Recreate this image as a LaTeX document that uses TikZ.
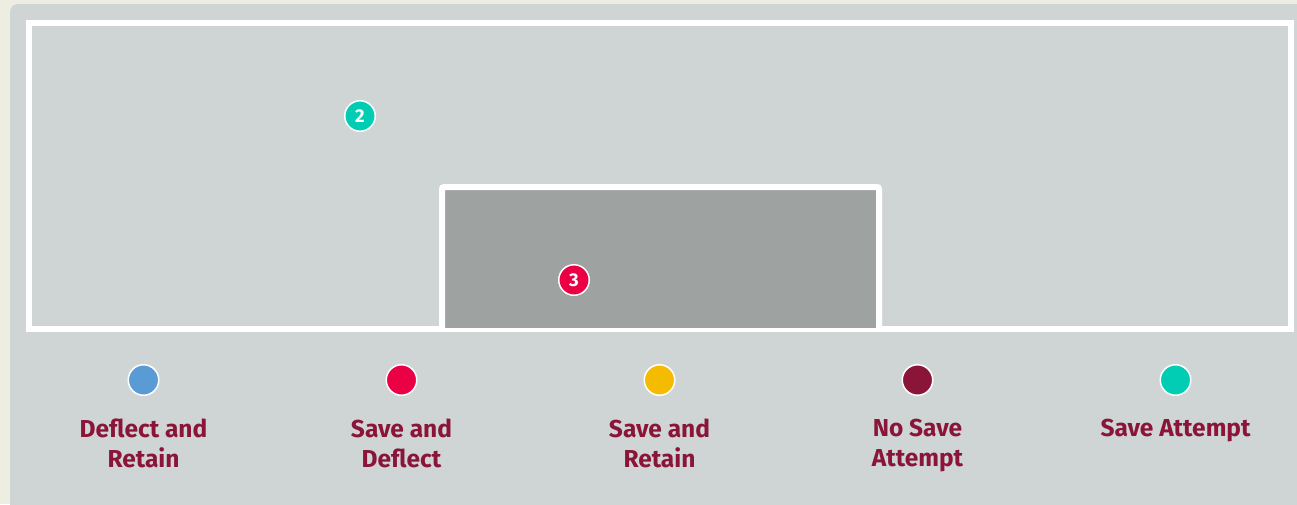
\documentclass[tikz,border=0pt]{standalone}
\usepackage{fontspec}
\setmainfont{Fira Sans}
\usetikzlibrary{positioning}
\definecolor{cream}{HTML}{EEEDE1}
\definecolor{panel}{HTML}{CFD5D5}
\definecolor{goalgrey}{HTML}{9EA2A0}
\definecolor{maroon}{HTML}{8A1538}
\definecolor{deflblue}{HTML}{5B9BD5}
\definecolor{savered}{HTML}{EB0046}
\definecolor{saveyellow}{HTML}{F5BB00}
\definecolor{attteal}{HTML}{00CDB4}
\tikzset{
  shotdot/.style={circle, draw=white, line width=1.5pt, inner sep=0pt,
                  minimum size=30.5pt, text=white,
                  font=\fontsize{18.5}{18.5}\selectfont\bfseries},
  lbl/.style={align=center, inner sep=0pt, text=maroon,
              font=\fontsize{24.5}{30}\selectfont\bfseries},
  pitchline/.style={draw=white, line width=6pt},
}

\begin{document}
\begin{tikzpicture}[x=1pt, y=-1pt, node distance=23pt]
  \useasboundingbox (0,0) rectangle (1297,504);
  \fill[cream] (0,0) rectangle (1297,504);
  \begin{scope}
    \clip (0,0) rectangle (1297,504);
    \fill[panel, rounded corners=8pt] (10,4) rectangle (1330,540);
  \end{scope}
  % goal area
  \draw[pitchline] (29,23) rectangle (1291,328.5);
  \fill[goalgrey] (442,187) rectangle (879,328);
  \draw[pitchline, rounded corners=2pt] (442,328.5) -- (442,187) -- (879,187) -- (879,328.5);
  \node[shotdot, fill=attteal] (s2) at (360,116) {2};
  \node[shotdot, fill=savered] (s3) at (574,280) {3};
  % legend
  \node[shotdot, fill=deflblue] (d1) at (143.5,380) {};
  \node[shotdot, fill=savered, right=226pt of d1] (d2) {};
  \node[shotdot, fill=saveyellow, right=226pt of d2] (d3) {};
  \node[shotdot, fill=maroon, right=226pt of d3] (d4) {};
  \node[shotdot, fill=attteal, right=226pt of d4] (d5) {};
  \node[lbl, below=of d1] (l1) {Deflect and\\Retain};
  \node[lbl, below=of d2] (l2) {Save and\\Deflect};
  \node[lbl, below=of d3] (l3) {Save and\\Retain};
  \node[lbl, below=of d4] (l4) {No Save\\Attempt};
  \node[lbl, below=of d5] (l5) {Save Attempt};
\end{tikzpicture}
\end{document}
